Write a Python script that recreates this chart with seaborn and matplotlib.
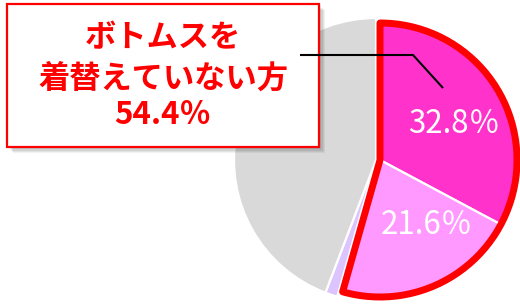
import matplotlib
matplotlib.use("Agg")
import matplotlib.pyplot as plt
from matplotlib.patches import Rectangle, Wedge
import seaborn as sns

# data
labels = ["着替えていない(上下)", "着替えていない(一部)", "その他", "着替えている"]
values = [32.8, 21.6, 1.4, 44.2]
colors = ["#FF33CC", "#FF99FF", "#DCC5FF", "#D9D9D9"]
callout_lines = ["ボトムスを", "着替えていない方"]
callout_value = 54.4

sns.set_theme(style="white")
plt.rcParams["font.family"] = ["Noto Sans CJK JP", "DejaVu Sans"]

W, H = 520, 304
fig = plt.figure(figsize=(W / 100, H / 100), dpi=100)
ax = fig.add_axes([0, 0, 1, 1])

cx, cy, r = 376, 144, 142
wedges, _ = ax.pie(
    values,
    colors=colors,
    startangle=90,
    counterclock=False,
    center=(cx, cy),
    radius=r,
    wedgeprops=dict(edgecolor="white", linewidth=1.6),
)

# the two highlighted slices sit a bit to the right and are slightly smaller
pcx, pr = cx + 4, 137
for w in wedges[:2]:
    w.set_center((pcx, cy))
    w.set_radius(pr)

# red outline around the combined highlighted share
share = sum(values[:2]) / sum(values)
ax.add_patch(Wedge((pcx, cy), pr, 90 - 360 * share, 90, facecolor="none",
                   edgecolor="#FF0000", linewidth=5, joinstyle="round", zorder=5))

ax.text(pcx + 74, cy + 36, f"{values[0]:.1f}％", color="white",
        fontsize=22.5, ha="center", va="center", zorder=6)
ax.text(pcx + 47, cy - 65, f"{values[1]:.1f}％", color="white",
        fontsize=22.5, ha="center", va="center", zorder=6)

# callout box with soft shadow
bx0, by0, bx1, by1 = 7, H - 147, 319, H - 4
for i, a in enumerate([0.05, 0.06, 0.07, 0.08]):
    off = 6 - i * 1.2
    ax.add_patch(Rectangle((bx0 + off, by0 - off), bx1 - bx0, by1 - by0,
                           facecolor="black", edgecolor="none", alpha=a, zorder=7))
ax.add_patch(Rectangle((bx0, by0), bx1 - bx0, by1 - by0, facecolor="white",
                       edgecolor="#FF0000", linewidth=1.6, zorder=8))

ax.plot([300, 413, 443], [H - 55, H - 55, H - 88], color="black", lw=1.5,
        zorder=9, solid_capstyle="butt")

tx = (bx0 + bx1) / 2
ax.text(tx, H - 38, callout_lines[0], color="#FF0000", fontsize=22.5,
        fontweight="bold", ha="center", va="center", zorder=9)
ax.text(tx, H - 79, callout_lines[1], color="#FF0000", fontsize=22.5,
        fontweight="bold", ha="center", va="center", zorder=9)
ax.text(tx, H - 115, f"{callout_value:.1f}％", color="#FF0000", fontsize=22.5,
        fontweight="bold", ha="center", va="center", zorder=9)

ax.set_xlim(0, W)
ax.set_ylim(0, H)
ax.set_aspect("equal")
ax.axis("off")

fig.savefig("out.png", dpi=100)
